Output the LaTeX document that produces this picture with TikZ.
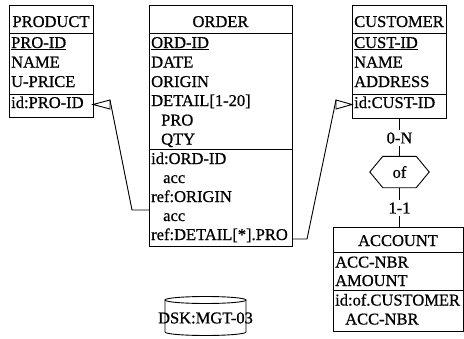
\documentclass[tikz,border=0pt]{standalone}
\usepackage{fontspec}
\setmainfont{Liberation Serif}[FakeBold=0.8]
\usetikzlibrary{arrows.meta}
\newcommand\erfont{\fontsize{16.5}{19}\selectfont}
\begin{document}
\begin{tikzpicture}[x=1pt,y=-1pt,
  box/.style={draw, line width=1pt, inner sep=0pt, anchor=north west},
  txt/.style={anchor=base west, inner sep=0pt, font=\erfont},
  ttl/.style={anchor=base, inner sep=0pt, font=\erfont},
  card/.style={inner sep=2pt, font=\erfont},
  conn/.style={line width=0.9pt},
  sep/.style={line width=1pt}]
\useasboundingbox (0,0) rectangle (464,338);

% PRODUCT
\node[box, minimum width=84pt, minimum height=112pt] (product) at (9,5) {};
\draw[sep] (product.west |- 0,33) -- (product.east |- 0,33);
\draw[sep] (product.west |- 0,94) -- (product.east |- 0,94);
\node[ttl] (pT) at (51,27) {PRODUCT};
\node[txt] (p1) at (11,48) {\underline{PRO-ID}};
\node[txt] (p2) at (11,67.5) {NAME};
\node[txt] (p3) at (11,87) {U-PRICE};
\node[txt] (p4) at (11,108) {id:PRO-ID};

% ORDER
\node[box, minimum width=143pt, minimum height=241pt] (order) at (149,5) {};
\draw[sep] (order.west |- 0,33) -- (order.east |- 0,33);
\draw[sep] (order.west |- 0,149) -- (order.east |- 0,149);
\node[ttl] (oT) at (220.5,27) {ORDER};
\node[txt] (o1) at (151,48) {\underline{ORD-ID}};
\node[txt] (o2) at (151,67.5) {DATE};
\node[txt] (o3) at (151,87) {ORIGIN};
\node[txt] (o4) at (151,106) {DETAIL[1-20]};
\node[txt] (o5) at (161,125.5) {PRO};
\node[txt] (o6) at (161,144.5) {QTY};
\node[txt] (o7) at (151,164) {id:ORD-ID};
\node[txt] (o8) at (163,183) {acc};
\node[txt] (o9) at (151,202) {ref:ORIGIN};
\node[txt] (o10) at (163,221) {acc};
\node[txt] (o11) at (151,240) {ref:DETAIL[*].PRO};

% CUSTOMER
\node[box, minimum width=94pt, minimum height=113pt] (customer) at (352,5) {};
\draw[sep] (customer.west |- 0,33) -- (customer.east |- 0,33);
\draw[sep] (customer.west |- 0,94) -- (customer.east |- 0,94);
\node[ttl] (cT) at (399,27) {CUSTOMER};
\node[txt] (c1) at (354,48) {\underline{CUST-ID}};
\node[txt] (c2) at (354,67.5) {NAME};
\node[txt] (c3) at (354,87) {ADDRESS};
\node[txt] (c4) at (354,108) {id:CUST-ID};

% ACCOUNT
\node[box, minimum width=130pt, minimum height=104pt] (account) at (333,227) {};
\draw[sep] (account.west |- 0,252) -- (account.east |- 0,252);
\draw[sep] (account.west |- 0,290) -- (account.east |- 0,290);
\node[ttl] (aT) at (398,246) {ACCOUNT};
\node[txt] (a1) at (335,267.5) {ACC-NBR};
\node[txt] (a2) at (335,286) {AMOUNT};
\node[txt] (a3) at (335,305.5) {id:of.CUSTOMER};
\node[txt] (a4) at (345,324.5) {ACC-NBR};

% relationship "of"
\node[inner sep=0pt, minimum width=59pt, minimum height=31pt, font=\erfont] (ofrel) at (399.5,172) {of};
\draw[conn] (ofrel.west) -- ([xshift=13pt]ofrel.north west) -- ([xshift=-13pt]ofrel.north east)
  -- (ofrel.east) -- ([xshift=-13pt]ofrel.south east) -- ([xshift=13pt]ofrel.south west) -- cycle;
\node[card] (card1) at (399.5,138) {0-N};
\node[card] (card2) at (399.5,208) {1-1};
\draw[conn] (customer.south -| card1) -- (card1.north);
\draw[conn] (card1.south) -- (ofrel.north);
\draw[conn] (ofrel.south) -- (card2.north);
\draw[conn] (card2.south) -- (account.north -| card2);

% reference arrows
\coordinate (tipP) at (93,104.5);
\coordinate (baseP) at (110,100);
\draw[conn] (tipP) -- (baseP) -- (110,109) -- cycle;
\coordinate (bendL) at (132,210);
\draw[conn] (baseP) -- (bendL) -- (order.west |- bendL);

\coordinate (tipC) at (352,104.5);
\coordinate (baseC) at (336,100);
\draw[conn] (tipC) -- (baseC) -- (336,109) -- cycle;
\coordinate (bendR) at (307,239);
\draw[conn] (baseC) -- (bendR) -- (order.east |- bendR);

% disk
\draw[conn] (165,300) -- (165,332) arc[start angle=180, end angle=360, x radius=40.5pt, y radius=3.5pt] -- (246,300);
\draw[conn] (205.5,300) ellipse[x radius=40.5pt, y radius=3.5pt];
\node[font=\erfont, inner sep=0pt] (dsk) at (205.5,318) {DSK:MGT-03};
\end{tikzpicture}
\end{document}
